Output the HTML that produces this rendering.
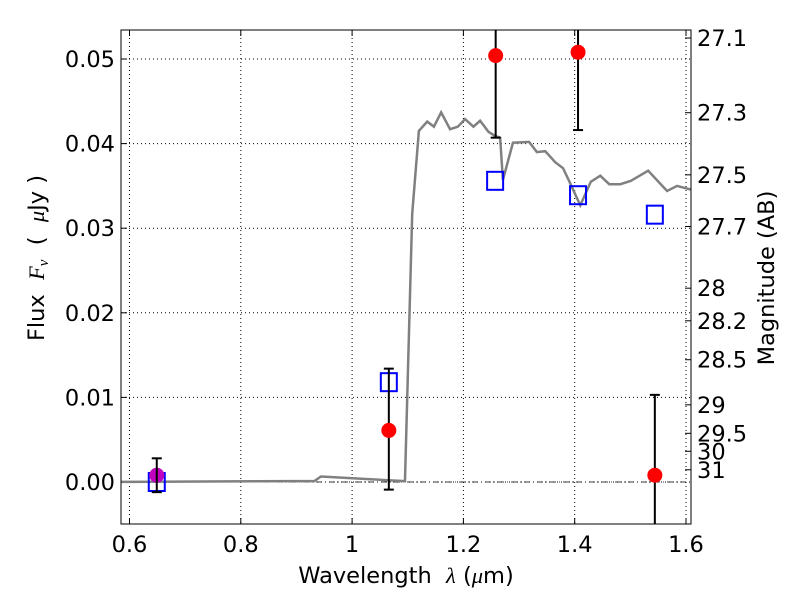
<!DOCTYPE html>
<html><head><meta charset="utf-8"><style>
body{margin:0;background:#fff}
svg text{font-family:"DejaVu Sans","Liberation Sans",sans-serif;font-size:22.5px;fill:#000;white-space:pre}
</style></head><body>
<svg id="c" width="800" height="600" xmlns="http://www.w3.org/2000/svg"></svg>
<script>
const modelLam=[0.55,0.885,0.932,0.944,1.095,1.108,1.120,1.135,1.147,1.160,1.176,1.190,1.203,1.218,1.230,1.245,1.257,1.266,1.271,1.289,1.318,1.332,1.347,1.365,1.379,1.392,1.410,1.429,1.446,1.462,1.482,1.501,1.532,1.566,1.584,1.607,1.62];
const modelFlux=[0,0.0001,0.0001,0.00065,0.0001,0.0317,0.0415,0.0426,0.0420,0.0437,0.0417,0.0420,0.0429,0.0420,0.0427,0.0414,0.0409,0.0407,0.0357,0.0401,0.0402,0.0390,0.0391,0.0378,0.0371,0.0353,0.0327,0.0355,0.0362,0.0352,0.0352,0.0356,0.0368,0.0344,0.0350,0.0346,0.0345];
const obsLam=[1.066,1.258,1.406,1.544];
const obsFlux=[0.0061,0.0504,0.0508,0.0008];
const obsErrLo=[0.0070,0.0097,0.0092,0.0095];
const obsErrHi=[0.0073,0.02,0.02,0.0095];
const detLam=[0.649]; const detFlux=[0.0008]; const detErr=[0.0020];
const boxLam=[0.649,1.066,1.257,1.406,1.544];
const boxFlux=[0.0,0.0118,0.0356,0.0339,0.0316];
const xTicks=[0.6,0.8,1.0,1.2,1.4,1.6];
const yTicks=[0.00,0.01,0.02,0.03,0.04,0.05];
const magTicks=[27.1,27.3,27.5,27.7,28,28.2,28.5,29,29.5,30,31];
const L=121,R=691,T=30,B=524;
const X=v=>129.5+(v-0.6)*556.5;
const Y=v=>482-v*8460;
const s=document.getElementById('c');const NS='http://www.w3.org/2000/svg';
function el(t,a,p){const e=document.createElementNS(NS,t);for(const k in a)e.setAttribute(k,a[k]);(p||s).appendChild(e);return e;}
const clip=el('clipPath',{id:'cp'});el('rect',{x:L,y:T,width:R-L,height:B-T},clip);
xTicks.forEach(v=>{const g=el('line',{x1:X(v),x2:X(v),y1:T,y2:B,stroke:'#000','stroke-dasharray':'1,3','stroke-width':1});

el('line',{x1:X(v),x2:X(v),y1:B,y2:B-6,stroke:'#000'});el('line',{x1:X(v),x2:X(v),y1:T,y2:T+6,stroke:'#000'});
const t=el('text',{x:X(v),y:B+28,'text-anchor':'middle'});t.textContent=v.toFixed(1).replace(/^1\.0$/,'1');
});
yTicks.forEach(v=>{const g=el('line',{x1:L,x2:R,y1:Y(v),y2:Y(v),stroke:'#000','stroke-dasharray':'1,3','stroke-width':1});

el('line',{x1:L,x2:L+6,y1:Y(v),y2:Y(v),stroke:'#000'});
const t=el('text',{x:L-6,y:Y(v)+8,'text-anchor':'end'});t.textContent=v.toFixed(2);
});
magTicks.forEach(m=>{const f=Math.pow(10,(23.9-m)/2.5);const y=Y(f);
el('line',{x1:R,x2:R-6,y1:y,y2:y,stroke:'#000'});
const t=el('text',{x:R+6,y:y+8});t.textContent=String(m);
});
const z=el('line',{x1:L,x2:R,y1:Y(0),y2:Y(0),stroke:'#000','stroke-dasharray':'6,3,1,3','stroke-width':0.8});

const ml=el('polyline',{points:modelLam.map((l,i)=>X(l)+','+Y(modelFlux[i])).join(' '),fill:'none',stroke:'#808080','stroke-width':2.5,'clip-path':'url(#cp)'});

function eb(x,lo,hi){const g=el('g',{'clip-path':'url(#cp)'});
el('line',{x1:x,x2:x,y1:Y(lo),y2:Y(hi),stroke:'#000','stroke-width':2},g);
el('line',{x1:x-5,x2:x+5,y1:Y(lo),y2:Y(lo),stroke:'#000','stroke-width':2},g);
el('line',{x1:x-5,x2:x+5,y1:Y(hi),y2:Y(hi),stroke:'#000','stroke-width':2},g);
}
boxLam.forEach((l,i)=>{const r=el('rect',{x:X(l)-8,y:Y(boxFlux[i])-9,width:16,height:18,fill:'none',stroke:'#0000ff','stroke-width':2});
});
obsLam.forEach((l,i)=>{eb(X(l),obsFlux[i]-obsErrLo[i],obsFlux[i]+obsErrHi[i]);
const c=el('circle',{cx:X(l),cy:Y(obsFlux[i]),r:7.5,fill:'#ff0000'});
});
detLam.forEach((l,i)=>{const c=el('circle',{cx:X(l),cy:Y(detFlux[i]),r:7.5,fill:'#bf00bf'});

eb(X(l),detFlux[i]-detErr[i],detFlux[i]+detErr[i]);});
const fr=el('rect',{x:L,y:T,width:R-L,height:B-T,fill:'none',stroke:'#000','stroke-width':1});

</script>
<svg width="800" height="600" style="position:absolute;left:0;top:0" xmlns="http://www.w3.org/2000/svg">
<text x="406" y="583" text-anchor="middle">Wavelength  <tspan font-style="italic" font-family="Liberation Serif">λ</tspan> (<tspan font-style="italic" font-family="Liberation Serif">μ</tspan>m)</text>
<text transform="translate(44,258) rotate(-90)" text-anchor="middle">Flux  <tspan font-style="italic" font-family="Liberation Serif">F<tspan font-size="15" dy="4">ν</tspan></tspan><tspan dy="-4">  (  </tspan><tspan font-style="italic" font-family="Liberation Serif">μ</tspan>Jy )</text>
<text transform="translate(774,278) rotate(-90)" text-anchor="middle">Magnitude (AB)</text>
</svg>
</body></html>
